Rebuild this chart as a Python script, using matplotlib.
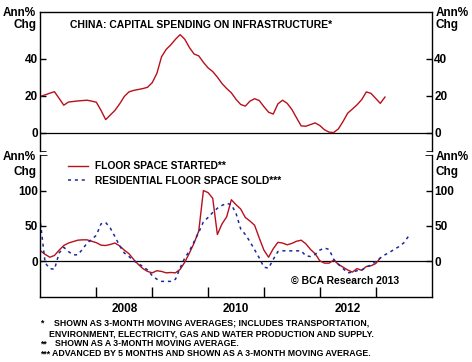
import matplotlib
matplotlib.use("Agg")
import matplotlib.pyplot as plt
import numpy as np

plt.rcParams['font.family'] = ['Liberation Sans', 'DejaVu Sans']

# monthly data, starting Jan 2007
start_year = 2007
infra_capex = [19.6, 20.4, 21.3, 22.1, 18.5, 14.8, 16.5, 16.8, 17.1, 17.3, 17.5, 17, 16.4, 12, 7,
               9.5, 12, 15.5, 19.5, 22, 22.8, 23.3, 23.8, 24.5, 27, 32, 41, 45, 47.5, 50.5,
               53, 50.5, 46, 42.5, 41.5, 38, 35, 33, 30, 26.5, 23.8, 21.5, 18, 15.2, 14.3,
               17, 18.3, 17.3, 14, 11, 10, 15.5, 17.5, 15.8, 12.5, 8, 3.6, 3.4, 4.3, 5.2,
               3.8, 1.5, 0.2, 0, 2, 6, 10.5, 12.7, 15, 17.8, 22, 21.2, 18.5, 15.8, 19.2]
floor_started = [15, 10, 6, 8.5, 16, 22.5, 26, 28, 30, 30.5, 30.5, 28.5, 26.5, 23, 22.5, 24, 26,
                 22, 16, 11, 3, -4, -10, -14, -16, -13, -14, -16, -15.5, -16, -11, -1, 12, 26,
                 43, 100, 97, 89, 38, 53, 63, 87, 80, 74, 62, 57, 51, 33, 16, 6, 18, 27, 26,
                 23.5, 25.5, 28.5, 30, 25, 17, 11, 1, -2.3, -2.3, 2, -4, -8, -12, -15, -10,
                 -12.5, -7, -6, -3, 4.8]
floor_sold = [54, -2, -10, -11, 12, 20, 14, 9.4, 9.4, 17, 26, 31, 37, 53, 55, 47, 35, 22, 12, 7,
              1, -3, -7, -12, -20, -25, -28, -28, -28, -25, -9, 5, 15, 28, 41, 56, 62, 69, 75,
              79, 82, 80, 68, 46, 38, 28, 16.5, 5, -8, -9.4, 3, 14, 15, 15, 15, 15, 15, 8, 7,
              10, 16, 19, 17, 3, -4, -10, -16, -15, -13, -12, -8, -5, 0, 5, 9.4, 13, 17, 21,
              26, 35]

year_ticks = [2008, 2009, 2010, 2011, 2012, 2013]
year_labels = ['2008', '2010', '2012']

def months(series):
    return start_year + np.arange(len(series)) / 12.0

RED = '#b8101c'
BLUE = '#1a2a9a'

fig = plt.figure(figsize=(4.72, 3.62), dpi=100)
ax1 = fig.add_axes([0.0858, 0.5829, 0.8284, 0.3826])
ax2 = fig.add_axes([0.0858, 0.1796, 0.8284, 0.3922])

for ax in (ax1, ax2):
    ax.set_xlim(2007, 2014)
    ax.axhline(0, color='black', lw=0.9)
    for s in ax.spines.values():
        s.set_linewidth(1.0)
    ax.tick_params(axis='y', which='major', left=True, right=True, labelleft=True,
                   labelright=True, direction='out', length=4, width=1, pad=2,
                   labelsize=8.5)
    ax.tick_params(axis='y', which='major', right=True, direction='in')

# top panel
ax1.plot(months(infra_capex), infra_capex, color=RED, lw=1.0)
ax1.set_ylim(-10, 65)
ax1.set_yticks([0, 20, 40])
ax1.set_yticks([-10], minor=True)
ax1.tick_params(axis='y', which='minor', left=True, right=True, direction='in', length=4)
ax1.spines['bottom'].set_visible(False)
ax1.set_xticks([])
ax1.text(0.075, 0.91, 'CHINA: CAPITAL SPENDING ON INFRASTRUCTURE*', transform=ax1.transAxes,
         fontsize=7.5, fontweight='bold', va='center', ha='left')

# lower panel
ax2.plot(months(floor_started), floor_started, color=RED, lw=1.0,
         label='FLOOR SPACE STARTED**')
ax2.plot(months(floor_sold), floor_sold, color=BLUE, lw=1.1, linestyle=(0, (2, 2.5)),
         label='RESIDENTIAL FLOOR SPACE SOLD***')
ax2.set_ylim(-50, 150)
ax2.set_yticks([0, 50, 100])
ax2.set_yticks([150], minor=True)
ax2.tick_params(axis='y', which='minor', left=True, right=True, direction='in', length=5)
ax2.spines['top'].set_visible(False)
ax2.set_xticks(year_ticks)
ax2.set_xticklabels([])
ax2.tick_params(axis='x', which='major', direction='in', length=7, width=1)
ax2.set_xticks([2008.5, 2010.5, 2012.5], minor=True)
ax2.set_xticklabels(year_labels, minor=True, fontsize=8.5, fontweight='bold')
ax2.tick_params(axis='x', which='minor', length=0, pad=4)
for lab in ax1.get_yticklabels() + ax2.get_yticklabels():
    lab.set_fontweight('bold')

leg = ax2.legend(loc='upper left', bbox_to_anchor=(0.06, 0.985), frameon=False,
                 prop={'size': 7.4, 'weight': 'bold'}, handlelength=1.9,
                 handletextpad=0.7, labelspacing=0.45, borderaxespad=0)
ax2.text(0.64, 0.11, '\u00a9 BCA Research 2013', transform=ax2.transAxes,
         fontsize=7.5, fontweight='bold', va='center', ha='left')

# axis unit labels
for y1, y2 in [(12.7, 25), (157, 171.5)]:
    fig.text(36 / 472, 1 - y1 / 362, 'Ann%', ha='right', va='center', fontsize=8.5,
             fontweight='bold')
    fig.text(36 / 472, 1 - y2 / 362, 'Chg', ha='right', va='center', fontsize=8.5,
             fontweight='bold')
    fig.text(436 / 472, 1 - y1 / 362, 'Ann%', ha='left', va='center', fontsize=8.5,
             fontweight='bold')
    fig.text(436 / 472, 1 - y2 / 362, 'Chg', ha='left', va='center', fontsize=8.5,
             fontweight='bold')

# footnotes
notes = [
    (40, 323, '*'), (54, 323, 'SHOWN AS 3-MONTH MOVING AVERAGES; INCLUDES TRANSPORTATION,'),
    (49, 333.5, 'ENVIRONMENT, ELECTRICITY, GAS AND WATER PRODUCTION AND SUPPLY.'),
    (40, 344, '**'), (55, 344, 'SHOWN AS A 3-MONTH MOVING AVERAGE.'),
    (40, 354, '***'), (52, 354, 'ADVANCED BY 5 MONTHS AND SHOWN AS A 3-MONTH MOVING AVERAGE.'),
]
for x, y, t in notes:
    fig.text(x / 472, 1 - y / 362, t, ha='left', va='center', fontsize=6.3,
             fontweight='bold')

fig.savefig('out.png', dpi=100)
